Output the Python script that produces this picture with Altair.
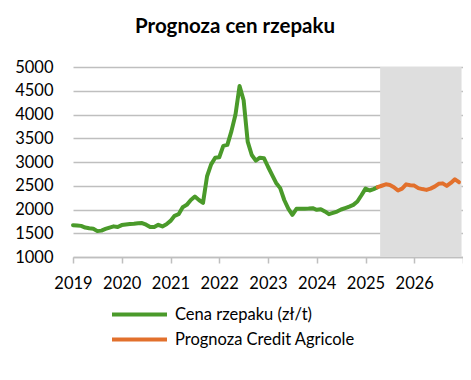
import altair as alt
import pandas as pd

# monthly values, Jan 2019 = month 0
price_start_month = 0
price_values = [
    1670, 1665, 1655, 1620, 1605, 1595, 1545, 1555, 1590, 1620, 1645, 1630,
    1672, 1685, 1695, 1700, 1710, 1715, 1680, 1630, 1630, 1678, 1643, 1690,
    1760, 1867, 1902, 2049, 2098, 2200, 2272, 2200, 2140, 2700, 2950, 3090,
    3100, 3340, 3360, 3650, 4000, 4600, 4300, 3430, 3147, 3030, 3090, 3080,
    2900, 2730, 2560, 2450, 2200, 2020, 1888, 2014, 2014, 2014, 2020, 2028,
    1993, 2007, 1960, 1902, 1930, 1957, 2000, 2030, 2060, 2098, 2168, 2300,
    2440, 2400, 2430, 2470,
]
forecast_start_month = 75
forecast_values = [
    2470, 2500, 2530, 2515, 2470, 2400, 2440, 2530, 2510, 2503, 2450, 2430,
    2413, 2440, 2482, 2540, 2550, 2497, 2560, 2637, 2574,
]
series_names = ["Cena rzepaku (zł/t)", "Prognoza Credit Agricole"]
series_colors = ["#4A9A2A", "#E2702C"]
year_ticks = [2019, 2020, 2021, 2022, 2023, 2024, 2025, 2026, 2027]
y_ticks = [1000, 1500, 2000, 2500, 3000, 3500, 4000, 4500, 5000]
shade_start = 2025.3
shade_end = 2026.97

rows = []
for i, v in enumerate(price_values):
    rows.append({"t": 2019 + (price_start_month + i) / 12, "v": v, "s": series_names[0]})
for i, v in enumerate(forecast_values):
    rows.append({"t": 2019 + (forecast_start_month + i) / 12, "v": v, "s": series_names[1]})
df = pd.DataFrame(rows)
shade_df = pd.DataFrame([{"x": shade_start, "x2": shade_end, "y": 1000, "y2": 5000}])

FONT = "Lato"
FS = 16.5

xscale = alt.Scale(domain=[2019, 2027], nice=False, zero=False)
yscale = alt.Scale(domain=[1000, 5000], nice=False, zero=False)

xaxis = alt.Axis(values=year_ticks, format="d", grid=False, labelOverlap=False, labelFlush=False,
                 labelExpr="datum.value > 2026 ? '' : datum.label",
                 domainColor="#BFBFBF", domainWidth=1.5,
                 tickColor="#BFBFBF", tickWidth=1.5, tickSize=6,
                 labelPadding=12, labelFontSize=FS, labelColor="#000000", labelFont=FONT)
yaxis = alt.Axis(values=y_ticks, format="d", grid=True, gridColor="#BFBFBF", gridWidth=1.5,
                 domain=False, ticks=False, labelPadding=20, labelOverlap=False, labelFlush=False,
                 labelFontSize=FS, labelColor="#000000", labelFont=FONT)

shade = alt.Chart(shade_df).mark_rect(color="#DEDEDE").encode(
    x=alt.X("x:Q", scale=xscale, title=None, axis=xaxis),
    x2="x2:Q",
    y=alt.Y("y:Q", scale=yscale, title=None, axis=yaxis),
    y2="y2:Q",
)

lines = alt.Chart(df).mark_line(strokeWidth=4, strokeJoin="round", strokeCap="round").encode(
    x=alt.X("t:Q", scale=xscale, title=None, axis=xaxis),
    y=alt.Y("v:Q", scale=yscale, title=None, axis=yaxis),
    color=alt.Color("s:N", scale=alt.Scale(domain=series_names, range=series_colors),
                    legend=alt.Legend(title=None, orient="none", legendX=37, legendY=238,
                                      symbolType="stroke", symbolSize=3025, symbolStrokeWidth=4,
                                      clipHeight=19, labelFontSize=FS, labelFont=FONT,
                                      labelColor="#000000", rowPadding=6, labelOffset=6,
                                      labelLimit=400, symbolLimit=0)),
    detail="s:N",
)

chart = alt.layer(shade, lines).properties(
    width=390, height=190,
    padding={"left": 65, "top": 59, "right": 0, "bottom": 115},
    autosize=alt.AutoSizeParams(type="none"),
    title=alt.TitleParams("Prognoza cen rzepaku", font=FONT, fontSize=20.5, fontWeight="bold",
                          color="#000000", anchor="middle", dx=-33, offset=22),
    background="white",
).configure_view(stroke=None)

chart.save("out.html", embed_options={"renderer": "svg", "actions": False})
